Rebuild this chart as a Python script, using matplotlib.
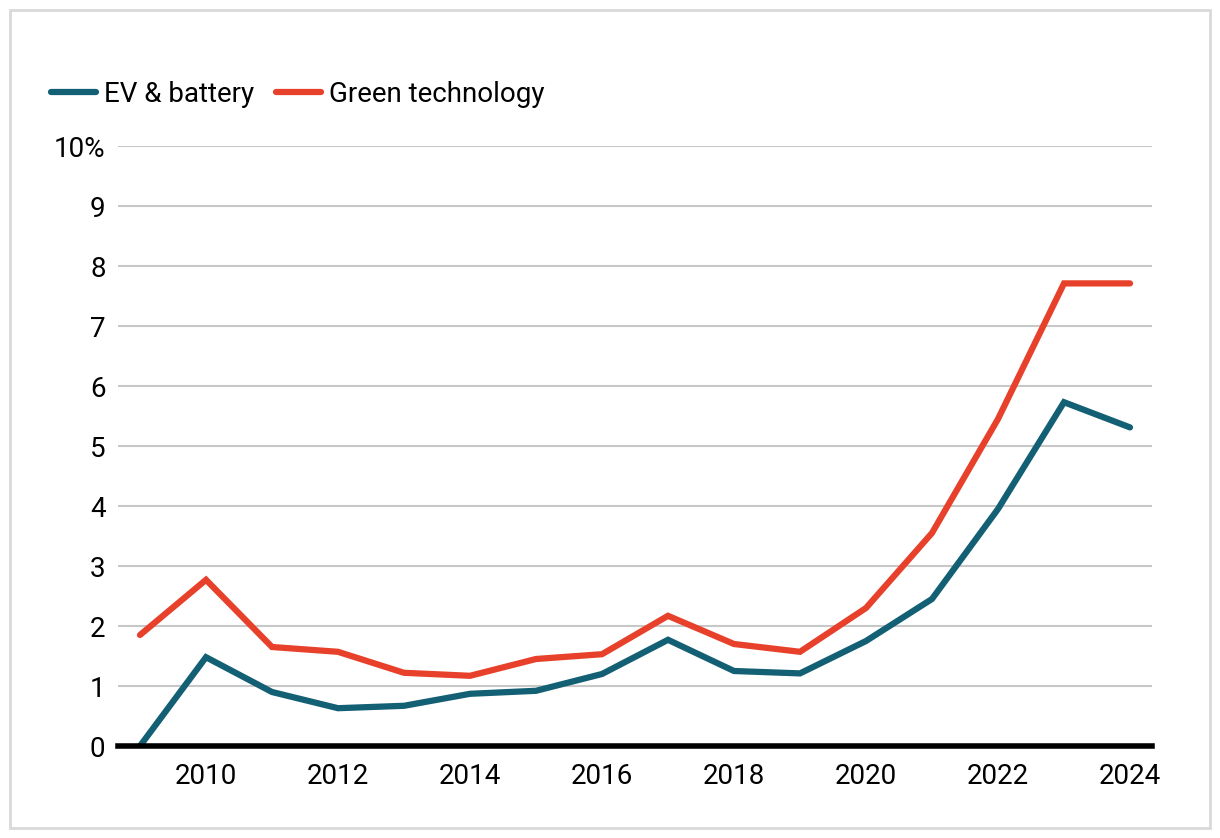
import numpy as np
import matplotlib.pyplot as plt
from matplotlib.patches import Rectangle

plt.rcParams['font.family'] = ['Roboto', 'DejaVu Sans']

years = np.arange(2009, 2025)
ev_battery = [0.0, 1.48, 0.9, 0.63, 0.67, 0.87, 0.92, 1.2, 1.77, 1.25, 1.21,
              1.75, 2.45, 3.95, 5.73, 5.31]
green_tech = [1.85, 2.77, 1.65, 1.57, 1.22, 1.17, 1.45, 1.53, 2.17, 1.7, 1.57,
              2.3, 3.55, 5.45, 7.71, 7.71]
xticks = [2010, 2012, 2014, 2016, 2018, 2020, 2022, 2024]
yticks = np.arange(0, 11)
ylabels = [str(v) for v in yticks[:-1]] + ['10%']

teal = '#135f74'
red = '#e8412b'

fig = plt.figure(figsize=(12.2, 8.38), dpi=100)
fig.patches.append(Rectangle((10 / 1220, 10 / 838), 1200 / 1220, 818 / 838,
                             transform=fig.transFigure, fill=False,
                             edgecolor='#d9d9d9', linewidth=2))
ax = fig.add_axes([118 / 1220, 1 - 746 / 838, (1152 - 118) / 1220, 600 / 838])

ax.plot(years, ev_battery, color=teal, lw=4.5, solid_capstyle='round',
        solid_joinstyle='miter', label='EV & battery', zorder=3)
ax.plot(years, green_tech, color=red, lw=4.5, solid_capstyle='round',
        solid_joinstyle='miter', label='Green technology', zorder=3)

ax.set_xlim(2009 - 22 / 66, 2024 + 22 / 66)
ax.set_ylim(0, 10)
ax.set_xticks(xticks)
ax.set_yticks(yticks)
ax.set_yticklabels(ylabels)
ax.yaxis.grid(True, color='#c8c8c8', lw=1.5)
ax.set_axisbelow(True)
for s in ['top', 'right', 'left']:
    ax.spines[s].set_visible(False)
ax.spines['bottom'].set_linewidth(4)
ax.spines['bottom'].set_zorder(4)
ax.tick_params(axis='both', length=0, labelsize=20, colors='black')
ax.tick_params(axis='x', pad=12)
ax.tick_params(axis='y', pad=9)

fig.legend(loc='upper left', bbox_to_anchor=(40 / 1220, 1 - 70 / 838), ncol=2,
           frameon=False, fontsize=20, handlelength=1.6, handletextpad=0.3,
           columnspacing=0.8, borderaxespad=0)

fig.savefig('out.png', dpi=100)
